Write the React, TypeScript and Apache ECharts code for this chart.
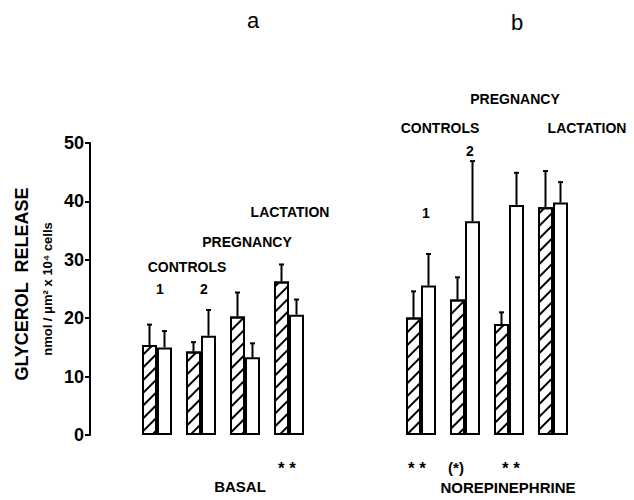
import React, { useEffect, useRef } from "react";
import * as echarts from "echarts";

const categories = ["a-C1", "a-C2", "a-P", "a-L", "gap1", "gap2", "b-C1", "b-C2", "b-P", "b-L"];
const hatchedMeans = [15.4, 14.3, 20.3, 26.3, null, null, 20.1, 23.2, 19.0, 39.0];
const hatchedErr = [3.5, 1.6, 4.1, 2.9, null, null, 4.5, 3.8, 2.0, 6.2];
const whiteMeans = [15.0, 17.0, 13.3, 20.6, null, null, 25.6, 36.6, 39.4, 39.8];
const whiteErr = [2.8, 4.4, 2.4, 2.6, null, null, 5.4, 10.3, 5.5, 3.5];
const yTicks = [0, 10, 20, 30, 40, 50];

const FONT = "Liberation Sans";

function errData(means: (number | null)[], errs: (number | null)[]) {
  const out: number[][] = [];
  means.forEach((m, i) => {
    if (m !== null && errs[i] !== null) out.push([i, m, errs[i] as number]);
  });
  return out;
}

function errSeries(data: number[][], offset: number) {
  return {
    type: "custom",
    z: 5,
    data,
    renderItem: (params: any, api: any) => {
      const idx = api.value(0);
      const m = api.value(1);
      const e = api.value(2);
      const base = api.coord([idx, m]);
      const top = api.coord([idx, m + e]);
      const x = base[0] + offset;
      return {
        type: "group",
        children: [
          { type: "line", shape: { x1: x, y1: base[1], x2: x, y2: top[1] }, style: { stroke: "#000", lineWidth: 2 } },
          { type: "line", shape: { x1: x - 2.5, y1: top[1], x2: x + 2.5, y2: top[1] }, style: { stroke: "#000", lineWidth: 2 } },
        ],
      };
    },
  };
}

function txt(text: string, x: number, y: number, size = 14, weight: any = "bold", extra: any = {}) {
  return {
    type: "text",
    x,
    y,
    style: {
      text,
      fontSize: size,
      fontWeight: weight,
      fontFamily: FONT,
      fill: "#000",
      textAlign: "center",
      textVerticalAlign: "middle",
    },
    ...extra,
  };
}

export default function App() {
  const ref = useRef<HTMLDivElement>(null);
  useEffect(() => {
    if (!ref.current) return;
    const chart = echarts.init(ref.current, null, { renderer: "svg" });
    chart.setOption({
      animation: false,
      backgroundColor: "#fff",
      grid: { left: 135, width: 440, top: 143, bottom: 65 },
      xAxis: {
        type: "category",
        data: categories,
        axisLine: { show: false },
        axisTick: { show: false },
        axisLabel: { show: false },
      },
      yAxis: {
        type: "value",
        min: 0,
        max: 50,
        interval: 10,
        offset: 45,
        splitLine: { show: false },
        axisLine: { show: true, lineStyle: { color: "#000", width: 2 } },
        axisTick: { show: true, length: 5, lineStyle: { color: "#000", width: 2 } },
        axisLabel: {
          color: "#000",
          fontSize: 18,
          fontWeight: "bold",
          fontFamily: FONT,
          margin: 6,
          formatter: (v: number) => (yTicks.includes(v) ? String(v) : ""),
        },
      },
      series: [
        {
          type: "bar",
          data: hatchedMeans,
          barWidth: 15,
          barGap: "0%",
          itemStyle: {
            color: "#fff",
            borderColor: "#000",
            borderWidth: 2,
            decal: {
              symbol: "rect",
              symbolSize: 1,
              color: "#000",
              dashArrayX: [1, 0],
              dashArrayY: [2, 7],
              rotation: -Math.PI / 4,
            },
          },
        },
        {
          type: "bar",
          data: whiteMeans,
          barWidth: 15,
          barGap: "0%",
          itemStyle: { color: "#fff", borderColor: "#000", borderWidth: 2 },
        },
        errSeries(errData(hatchedMeans, hatchedErr), -7.5),
        errSeries(errData(whiteMeans, whiteErr), 7.5),
      ],
      graphic: [
        txt("a", 253, 20, 22, "normal", {}),
        txt("b", 517, 22, 22, "normal", {}),
        txt("CONTROLS", 187, 267),
        txt("1", 160, 289),
        txt("2", 204, 289),
        txt("PREGNANCY", 247, 242),
        txt("LACTATION", 290, 212),
        txt("PREGNANCY", 515, 99),
        txt("CONTROLS", 440, 128),
        txt("LACTATION", 587, 128),
        txt("2", 470, 151),
        txt("1", 426, 213),
        txt("* *", 287, 468, 17),
        txt("BASAL", 240, 486, 15),
        txt("* *", 417, 468, 17),
        txt("(*)", 456, 467, 15),
        txt("* *", 511, 468, 17),
        txt("NOREPINEPHRINE", 508, 487, 15),
        txt("GLYCEROL  RELEASE", 22, 284, 18, "bold", { rotation: Math.PI / 2 }),
        txt("nmol / μm² x 10⁴ cells", 47, 289, 13, "bold", { rotation: Math.PI / 2 }),
      ],
    });
    return () => chart.dispose();
  }, []);
  return <div ref={ref} style={{ position: "fixed", left: 0, top: 0, width: 634, height: 500 }} />;
}
